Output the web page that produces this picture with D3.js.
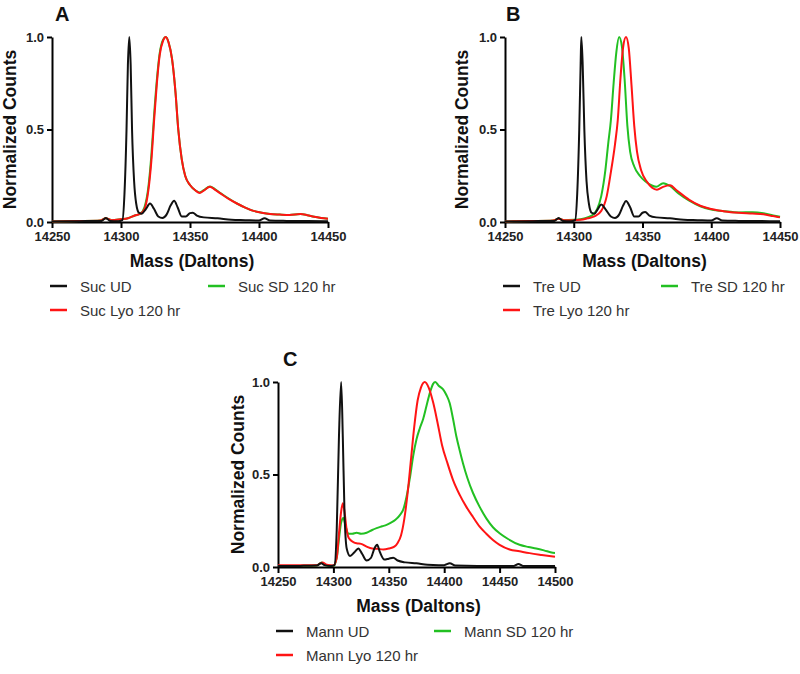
<!DOCTYPE html>
<html>
<head>
<meta charset="utf-8">
<script src="https://cdn.jsdelivr.net/npm/d3@7"></script>
<style>
  body { margin: 0; background: #fff; }
  svg { display: block; font-family: "Liberation Sans", Arial, sans-serif; }
</style>
</head>
<body>
<div id="chart"></div>
<script>
// Deconvoluted mass spectra, [mass (Da), normalized counts]

// Panel A - sucrose
var sucUD = [
  [14250, 0.003], [14270, 0.004], [14280, 0.006], [14286, 0.006], [14289, 0.022], [14292, 0.006],
  [14298, 0.004], [14301, 0.01], [14302.5, 0.15], [14304, 0.5], [14305, 0.85], [14306, 1.0],
  [14307, 0.85], [14308, 0.5], [14309.5, 0.22], [14311, 0.1], [14313, 0.05], [14315, 0.045],
  [14318, 0.07], [14321, 0.1], [14324, 0.07], [14327, 0.03], [14330, 0.022], [14333, 0.04],
  [14336, 0.09], [14338.5, 0.115], [14341, 0.08], [14344, 0.03], [14347, 0.03], [14350, 0.048],
  [14352, 0.05], [14355, 0.035], [14360, 0.025], [14370, 0.02], [14380, 0.012], [14390, 0.01],
  [14400, 0.008], [14404, 0.02], [14408, 0.008], [14420, 0.006], [14435, 0.005], [14450, 0.004]
];
var sucSD = [
  [14250, 0.003], [14270, 0.005], [14285, 0.008], [14289, 0.02], [14293, 0.01], [14300, 0.015],
  [14305, 0.02], [14310, 0.035], [14314, 0.045], [14317, 0.08], [14320, 0.2], [14322, 0.36],
  [14324, 0.58], [14326, 0.77], [14328, 0.91], [14330.5, 0.985], [14332.5, 1.0], [14334.5, 0.97],
  [14337, 0.88], [14339.5, 0.7], [14341.5, 0.5], [14344, 0.34], [14346.5, 0.25], [14350, 0.2],
  [14354, 0.17], [14357, 0.16], [14360, 0.172], [14364.5, 0.192], [14368, 0.178], [14372, 0.157],
  [14378, 0.127], [14384, 0.1], [14390, 0.078], [14396, 0.06], [14402, 0.05], [14408, 0.043],
  [14415, 0.04], [14422, 0.038], [14430, 0.043], [14435, 0.037], [14440, 0.028], [14445, 0.022],
  [14450, 0.018]
];
var sucLyo = [
  [14250, 0.003], [14270, 0.005], [14285, 0.008], [14289, 0.02], [14293, 0.01], [14300, 0.015],
  [14305, 0.02], [14310, 0.035], [14314, 0.045], [14317, 0.07], [14320, 0.18], [14322, 0.33],
  [14324, 0.55], [14326, 0.75], [14328, 0.9], [14330.5, 0.98], [14332.5, 1.0], [14334.5, 0.97],
  [14337, 0.88], [14339.5, 0.7], [14341.5, 0.5], [14344, 0.34], [14346.5, 0.25], [14350, 0.2],
  [14354, 0.17], [14357, 0.157], [14360, 0.17], [14364.5, 0.19], [14368, 0.175], [14372, 0.155],
  [14378, 0.125], [14384, 0.1], [14390, 0.078], [14396, 0.06], [14402, 0.05], [14408, 0.043],
  [14415, 0.04], [14422, 0.038], [14430, 0.043], [14435, 0.037], [14440, 0.028], [14445, 0.022],
  [14450, 0.018]
];

// Panel B - trehalose
var treUD = [
  [14250, 0.003], [14270, 0.004], [14280, 0.006], [14286, 0.006], [14289, 0.022], [14292, 0.006],
  [14298, 0.004], [14301, 0.01], [14302.5, 0.15], [14304, 0.5], [14305, 0.85], [14305.5, 1.0],
  [14306.5, 0.85], [14307.7, 0.5], [14309.3, 0.22], [14311, 0.1], [14313, 0.05], [14315, 0.045],
  [14317.5, 0.07], [14320, 0.094], [14323, 0.07], [14327, 0.03], [14330, 0.022], [14333, 0.04],
  [14336, 0.09], [14338, 0.113], [14341, 0.08], [14344, 0.03], [14347, 0.03], [14350, 0.05],
  [14352, 0.054], [14355, 0.035], [14360, 0.025], [14370, 0.02], [14380, 0.012], [14390, 0.01],
  [14400, 0.008], [14404, 0.02], [14408, 0.008], [14420, 0.006], [14435, 0.005], [14450, 0.004]
];
var treSD = [
  [14250, 0.003], [14270, 0.005], [14285, 0.008], [14289, 0.018], [14293, 0.01], [14300, 0.012],
  [14305, 0.015], [14310, 0.025], [14314, 0.04], [14317, 0.07], [14320, 0.14], [14323, 0.28],
  [14325, 0.42], [14327, 0.55], [14329, 0.75], [14331, 0.92], [14333, 1.0], [14335, 0.95],
  [14337, 0.77], [14339, 0.52], [14341, 0.38], [14344, 0.3], [14348, 0.25], [14352, 0.22],
  [14356, 0.2], [14360, 0.19], [14365, 0.21], [14370, 0.195], [14376, 0.155], [14384, 0.115],
  [14392, 0.085], [14400, 0.068], [14410, 0.058], [14420, 0.052], [14430, 0.053], [14438, 0.047],
  [14445, 0.035], [14450, 0.028]
];
var treLyo = [
  [14250, 0.003], [14270, 0.005], [14285, 0.008], [14289, 0.018], [14293, 0.01], [14300, 0.01],
  [14305, 0.012], [14310, 0.02], [14315, 0.03], [14320, 0.06], [14324, 0.14], [14327, 0.27],
  [14330, 0.42], [14332, 0.55], [14334, 0.78], [14336, 0.95], [14338, 1.0], [14340, 0.94],
  [14342, 0.74], [14344, 0.52], [14346, 0.38], [14349, 0.28], [14353, 0.22], [14357, 0.185],
  [14360.5, 0.175], [14365, 0.19], [14370, 0.198], [14375, 0.17], [14384, 0.12], [14392, 0.088],
  [14400, 0.07], [14410, 0.057], [14420, 0.05], [14430, 0.046], [14438, 0.042], [14445, 0.032],
  [14450, 0.025]
];

// Panel C - mannitol
var mannUD = [
  [14250, 0.005], [14270, 0.006], [14285, 0.008], [14289, 0.02], [14292, 0.01], [14298, 0.005],
  [14301, 0.01], [14303, 0.2], [14305, 0.7], [14307, 1.0], [14308.5, 0.7], [14310, 0.3],
  [14312, 0.1], [14315, 0.06], [14319, 0.08], [14322.5, 0.1], [14326, 0.07], [14330, 0.035],
  [14334, 0.05], [14337, 0.1], [14339.5, 0.12], [14342, 0.08], [14346, 0.04], [14350, 0.045],
  [14354, 0.05], [14358, 0.035], [14365, 0.025], [14375, 0.02], [14385, 0.012], [14395, 0.01],
  [14400, 0.01], [14405, 0.02], [14410, 0.008], [14430, 0.006], [14450, 0.006], [14463, 0.006],
  [14467, 0.016], [14471, 0.006], [14485, 0.005], [14500, 0.005]
];
var mannSD = [
  [14250, 0.005], [14270, 0.006], [14285, 0.008], [14289.5, 0.025], [14293, 0.01], [14300, 0.006],
  [14303, 0.05], [14305, 0.15], [14307, 0.24], [14309, 0.265], [14311, 0.22], [14313.5, 0.18],
  [14317, 0.18], [14321, 0.185], [14325, 0.18], [14330, 0.185], [14335, 0.2], [14339, 0.21],
  [14344, 0.22], [14348, 0.228], [14352, 0.24], [14356, 0.255], [14360, 0.28], [14363, 0.31],
  [14366, 0.38], [14369, 0.48], [14372, 0.6], [14375, 0.69], [14378, 0.75], [14381, 0.8],
  [14384, 0.87], [14387, 0.94], [14390, 0.99], [14392, 1.0], [14395, 0.98], [14399, 0.96],
  [14402, 0.93], [14405, 0.885], [14408, 0.8], [14411, 0.705], [14414, 0.63], [14417, 0.56],
  [14421, 0.48], [14426, 0.4], [14432, 0.325], [14438, 0.263], [14444, 0.215], [14450, 0.182],
  [14458, 0.15], [14468, 0.12], [14476, 0.108], [14483, 0.1], [14490, 0.09], [14498, 0.077],
  [14500, 0.076]
];
var mannLyo = [
  [14250, 0.01], [14270, 0.01], [14285, 0.01], [14290, 0.025], [14294, 0.012], [14300, 0.008],
  [14303, 0.05], [14305, 0.18], [14307, 0.3], [14308.5, 0.345], [14310, 0.3], [14312, 0.2],
  [14314, 0.155], [14318, 0.135], [14321, 0.128], [14325, 0.125], [14330, 0.11], [14335, 0.1],
  [14340, 0.098], [14345, 0.095], [14350, 0.1], [14355, 0.11], [14358, 0.13], [14361, 0.17],
  [14364, 0.26], [14367, 0.4], [14370, 0.58], [14373, 0.76], [14376, 0.9], [14379, 0.97],
  [14382.5, 1.0], [14386, 0.97], [14390, 0.89], [14394, 0.78], [14398, 0.66], [14403, 0.56],
  [14408, 0.47], [14414, 0.39], [14420, 0.325], [14426, 0.27], [14432, 0.218], [14438, 0.18],
  [14444, 0.146], [14450, 0.12], [14459, 0.095], [14468, 0.085], [14477, 0.075], [14488, 0.065],
  [14500, 0.055]
];

// Axis ticks
var massTicksAB = [14250, 14300, 14350, 14400, 14450];
var massTicksC = [14250, 14300, 14350, 14400, 14450, 14500];
var countTicks = [0, 0.5, 1.0];

// Colours
var black = "#111111";
var red = "#ff1414";
var green = "#22c022";

var svg = d3.select("#chart")
    .append("svg")
    .attr("width", 800)
    .attr("height", 674);

// Draws one panel: axes, lines, titles and legend
function drawPanel(p) {
    var x = d3.scaleLinear().domain(p.domain).range([p.left, p.right]);
    var y = d3.scaleLinear().domain([0, 1]).range([p.bottom, p.top]);
    var g = svg.append("g");

    // X axis
    var xAxis = g.append("g")
        .attr("transform", "translate(0," + p.bottom + ")")
        .call(d3.axisBottom(x).tickValues(p.ticks).tickFormat(d3.format("d"))
            .tickSize(6).tickSizeOuter(0).tickPadding(4));

    // Y axis
    var yAxis = g.append("g")
        .attr("transform", "translate(" + p.left + ",0)")
        .call(d3.axisLeft(y).tickValues(countTicks).tickFormat(d3.format(".1f"))
            .tickSize(5).tickSizeOuter(0).tickPadding(3));

    [xAxis, yAxis].forEach(function (a) {
        a.select(".domain").attr("stroke", "#000").attr("stroke-width", 2);
        a.selectAll(".tick line").attr("stroke", "#000").attr("stroke-width", 2);
        a.selectAll(".tick text")
            .attr("font-size", 13)
            .attr("font-weight", "bold")
            .attr("fill", "#222")
            .attr("font-family", "'Liberation Sans', Arial, sans-serif");
    });

    // Lines (green, red, then black on top)
    var line = d3.line()
        .x(d => x(d[0]))
        .y(d => y(d[1]))
        .curve(d3.curveMonotoneX);

    [p.series[1], p.series[2], p.series[0]].forEach(function (s) {
        g.append("path")
            .attr("fill", "none")
            .attr("stroke", s.color)
            .attr("stroke-width", 2)
            .attr("stroke-linejoin", "round")
            .attr("d", line(s.data));
    });

    // Panel letter
    g.append("text")
        .attr("x", p.letterX)
        .attr("y", p.letterY)
        .attr("font-size", 20)
        .attr("font-weight", "bold")
        .attr("fill", "#111")
        .text(p.letter);

    // Axis titles
    g.append("text")
        .attr("x", (p.left + p.right) / 2 + 2)
        .attr("y", p.bottom + 45)
        .attr("text-anchor", "middle")
        .attr("font-size", 17.5)
        .attr("font-weight", "bold")
        .attr("fill", "#111")
        .text("Mass (Daltons)");

    g.append("text")
        .attr("transform", "translate(" + p.yTitleX + "," + ((p.top + p.bottom) / 2) + ") rotate(-90)")
        .attr("text-anchor", "middle")
        .attr("font-size", 17.5)
        .attr("font-weight", "bold")
        .attr("fill", "#111")
        .text("Normalized Counts");

    // Legend: UD and SD on first row, Lyo below UD
    var spots = [[0, 0], [1, 0], [0, 1]];
    p.series.forEach(function (s, i) {
        var lx = p.left + (spots[i][0] ? 156 : -2);
        var ly = p.bottom + 64 + spots[i][1] * 24;
        g.append("line")
            .attr("x1", lx).attr("x2", lx + 17)
            .attr("y1", ly).attr("y2", ly)
            .attr("stroke", s.color)
            .attr("stroke-width", 2.5);
        g.append("text")
            .attr("x", lx + 30)
            .attr("y", ly + 5.5)
            .attr("font-size", 15)
            .attr("fill", "#333")
            .text(s.name);
    });
}

drawPanel({
    letter: "A", letterX: 55, letterY: 21,
    left: 52, right: 328, top: 37, bottom: 222, yTitleX: 16,
    domain: [14250, 14450], ticks: massTicksAB,
    series: [
        {name: "Suc UD", color: black, data: sucUD},
        {name: "Suc SD 120 hr", color: green, data: sucSD},
        {name: "Suc Lyo 120 hr", color: red, data: sucLyo}
    ]
});

drawPanel({
    letter: "B", letterX: 506, letterY: 21,
    left: 505, right: 780, top: 37, bottom: 222, yTitleX: 468,
    domain: [14250, 14450], ticks: massTicksAB,
    series: [
        {name: "Tre UD", color: black, data: treUD},
        {name: "Tre SD 120 hr", color: green, data: treSD},
        {name: "Tre Lyo 120 hr", color: red, data: treLyo}
    ]
});

drawPanel({
    letter: "C", letterX: 283, letterY: 366,
    left: 278, right: 555, top: 382, bottom: 567, yTitleX: 244,
    domain: [14250, 14500], ticks: massTicksC,
    series: [
        {name: "Mann UD", color: black, data: mannUD},
        {name: "Mann SD 120 hr", color: green, data: mannSD},
        {name: "Mann Lyo 120 hr", color: red, data: mannLyo}
    ]
});
</script>
</body>
</html>
